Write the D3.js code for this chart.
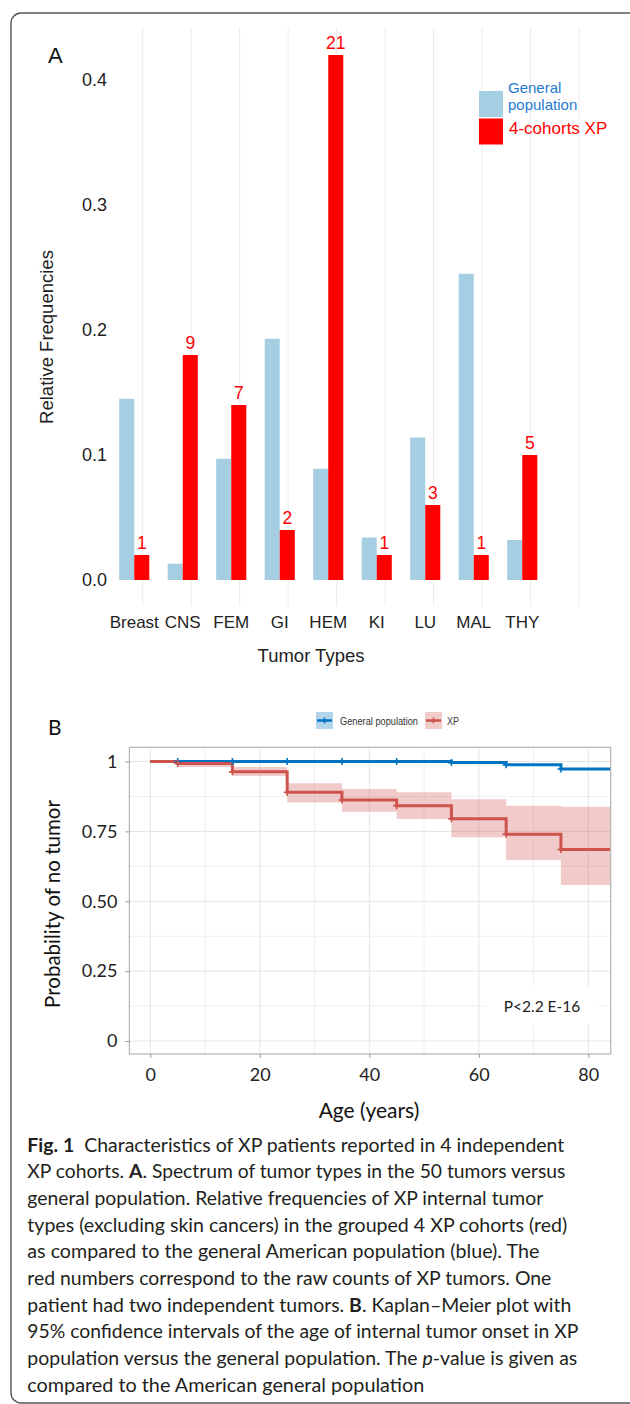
<!DOCTYPE html>
<html>
<head>
<meta charset="utf-8">
<script src="https://cdn.jsdelivr.net/npm/d3@7"></script>
<style>
  body { margin: 0; background: #fff; }
  svg { display: block; }
</style>
</head>
<body>
<div id="chart"></div>
<script>
// Panel A data: relative frequencies per tumor type
const categories = ["Breast", "CNS", "FEM", "GI", "HEM", "KI", "LU", "MAL", "THY"];
const generalFreq = [0.145, 0.013, 0.097, 0.193, 0.089, 0.034, 0.114, 0.245, 0.032];
const xpFreq = [0.02, 0.18, 0.14, 0.04, 0.42, 0.02, 0.06, 0.02, 0.10];
const xpCounts = [1, 9, 7, 2, 21, 1, 3, 1, 5];
const yTicksA = [0, 0.1, 0.2, 0.3, 0.4];

// Panel B data: Kaplan-Meier steps (value holds from each age to the next)
const stepAges = [0, 5, 15, 25, 35, 45, 55, 65, 75, 84];
const generalSurv = [1, 1, 1, 1, 1, 1, 0.996, 0.988, 0.973, 0.973];
const xpSurv = [1, 0.993, 0.963, 0.89, 0.862, 0.842, 0.795, 0.74, 0.685, 0.685];
const xpUpper = [1, 1, 0.98, 0.922, 0.902, 0.89, 0.865, 0.842, 0.838, 0.838];
const xpLower = [1, 0.98, 0.948, 0.853, 0.82, 0.794, 0.729, 0.648, 0.558, 0.558];
const censorAges = [5, 15, 25, 35, 45, 55, 65, 75];
const xTicksB = [0, 20, 40, 60, 80];
const yTicksB = [0, 0.25, 0.5, 0.75, 1];
const yTickLabelsB = ["0", "0.25", "0.50", "0.75", "1"];

const captionLines = [
    [["b", "Fig. 1"], ["n", "  Characteristics of XP patients reported in 4 independent"]],
    [["n", "XP cohorts. "], ["b", "A"], ["n", ". Spectrum of tumor types in the 50 tumors versus"]],
    [["n", "general population. Relative frequencies of XP internal tumor"]],
    [["n", "types (excluding skin cancers) in the grouped 4 XP cohorts (red)"]],
    [["n", "as compared to the general American population (blue). The"]],
    [["n", "red numbers correspond to the raw counts of XP tumors. One"]],
    [["n", "patient had two independent tumors. "], ["b", "B"], ["n", ". Kaplan\u2013Meier plot with"]],
    [["n", "95% confidence intervals of the age of internal tumor onset in XP"]],
    [["n", "population versus the general population. The "], ["i", "p"], ["n", "-value is given as"]],
    [["n", "compared to the American general population"]]
];
const captionWidths = [537, 538, 516, 540, 512, 524, 544, 551, 550, 397];

const W = 630, H = 1404;
const blueBar = "#a6cee3", redBar = "#ff0000";
const kmBlue = "#0073C2", kmRed = "#CD534C";

const svg = d3.select("#chart")
    .append("svg")
    .attr("width", W)
    .attr("height", H);

svg.append("rect").attr("width", W).attr("height", H).attr("fill", "#fff");

// outer frame
svg.append("rect")
    .attr("x", 11).attr("y", 13)
    .attr("width", 630).attr("height", 1390)
    .attr("rx", 10)
    .attr("fill", "none")
    .attr("stroke", "#555")
    .attr("stroke-width", 1.4);

// ---------------- Panel A ----------------
const gA = svg.append("g").attr("font-family", "'Liberation Sans', Arial, sans-serif");

const xA = d3.scaleBand()
    .domain(categories)
    .range([110, 110 + 9 * 48.5])
    .paddingInner(0.38)
    .paddingOuter(0.19);
const bw = xA.bandwidth() / 2;

const yA = d3.scaleLinear().domain([0, 0.4]).range([580, 80]);

// vertical gridlines (offset slightly right of the groups, one extra at the end)
const gridIdx = d3.range(categories.length + 1);
gA.append("g").selectAll("line")
    .data(gridIdx)
    .enter().append("line")
    .attr("x1", i => xA(categories[0]) + xA.bandwidth() / 2 + 8.4 + i * xA.step())
    .attr("x2", i => xA(categories[0]) + xA.bandwidth() / 2 + 8.4 + i * xA.step())
    .attr("y1", 28).attr("y2", 606)
    .attr("stroke", "#ebebeb")
    .attr("stroke-width", 1);

// bars
gA.append("g").selectAll("rect")
    .data(categories)
    .enter().append("rect")
    .attr("x", d => xA(d))
    .attr("y", (d, i) => yA(generalFreq[i]))
    .attr("width", bw)
    .attr("height", (d, i) => yA(0) - yA(generalFreq[i]))
    .attr("fill", blueBar);

gA.append("g").selectAll("rect")
    .data(categories)
    .enter().append("rect")
    .attr("x", d => xA(d) + bw)
    .attr("y", (d, i) => yA(xpFreq[i]))
    .attr("width", bw)
    .attr("height", (d, i) => yA(0) - yA(xpFreq[i]))
    .attr("fill", redBar);

// raw counts above red bars
gA.append("g").selectAll("text")
    .data(categories)
    .enter().append("text")
    .attr("x", d => xA(d) + bw * 1.5)
    .attr("y", (d, i) => yA(xpFreq[i]) - 6)
    .attr("text-anchor", "middle")
    .attr("font-size", 17.5)
    .attr("fill", redBar)
    .text((d, i) => xpCounts[i]);

// y axis
const axA = gA.append("g")
    .attr("transform", "translate(110,0)")
    .call(d3.axisLeft(yA).tickValues(yTicksA).tickFormat(d3.format(".1f")).tickSize(0).tickPadding(3));
axA.select(".domain").remove();
axA.selectAll("text").attr("font-size", 18).attr("fill", "#222").attr("font-family", "'Liberation Sans', Arial, sans-serif");

// x axis
const axAx = gA.append("g")
    .attr("transform", "translate(0,616)")
    .call(d3.axisBottom(xA).tickSize(0).tickPadding(0));
axAx.select(".domain").remove();
axAx.selectAll("text").attr("font-size", 17).attr("fill", "#222").attr("font-family", "'Liberation Sans', Arial, sans-serif");

gA.append("text")
    .attr("x", 311).attr("y", 662)
    .attr("text-anchor", "middle")
    .attr("font-size", 18.5)
    .attr("fill", "#222")
    .text("Tumor Types");

gA.append("text")
    .attr("transform", "translate(53,337) rotate(-90)")
    .attr("text-anchor", "middle")
    .attr("font-size", 18.5)
    .attr("fill", "#222")
    .text("Relative Frequencies");

gA.append("text")
    .attr("x", 48).attr("y", 63)
    .attr("font-size", 22)
    .attr("fill", "#111")
    .text("A");

// legend
const legA = gA.append("g");
legA.append("rect").attr("x", 479).attr("y", 91).attr("width", 24).attr("height", 26).attr("fill", blueBar);
legA.append("rect").attr("x", 479).attr("y", 118.5).attr("width", 24).attr("height", 26).attr("fill", redBar);
legA.append("text").attr("x", 508).attr("y", 92.5).attr("font-size", 15).attr("fill", "#1f7ad0").text("General");
legA.append("text").attr("x", 508).attr("y", 110).attr("font-size", 15).attr("fill", "#1f7ad0").text("population");
legA.append("text").attr("x", 509).attr("y", 133.5).attr("font-size", 17).attr("fill", redBar).text("4-cohorts XP");

// ---------------- Panel B ----------------
const gB = svg.append("g").attr("font-family", "Lato, 'Open Sans', sans-serif");
const panel = { x0: 129.4, x1: 610.7, y0: 747.3, y1: 1054 };

const xB = d3.scaleLinear().domain([0, 80]).range([150.3, 588.3]);
const yB = d3.scaleLinear().domain([0, 1]).range([1041, 761.5]);

gB.append("defs").append("clipPath").attr("id", "clipB")
    .append("rect")
    .attr("x", panel.x0).attr("y", panel.y0)
    .attr("width", panel.x1 - panel.x0).attr("height", panel.y1 - panel.y0);

const plotB = gB.append("g").attr("clip-path", "url(#clipB)");

// grid
const minorX = [10, 30, 50, 70], minorY = [0.125, 0.375, 0.625, 0.875];
plotB.append("g").selectAll("line").data(minorX).enter().append("line")
    .attr("x1", d => xB(d)).attr("x2", d => xB(d))
    .attr("y1", panel.y0).attr("y2", panel.y1)
    .attr("stroke", "#f0f0f0");
plotB.append("g").selectAll("line").data(minorY).enter().append("line")
    .attr("x1", panel.x0).attr("x2", panel.x1)
    .attr("y1", d => yB(d)).attr("y2", d => yB(d))
    .attr("stroke", "#f0f0f0");
plotB.append("g").selectAll("line").data(xTicksB).enter().append("line")
    .attr("x1", d => xB(d)).attr("x2", d => xB(d))
    .attr("y1", panel.y0).attr("y2", panel.y1)
    .attr("stroke", "#e4e4e4");
plotB.append("g").selectAll("line").data(yTicksB).enter().append("line")
    .attr("x1", panel.x0).attr("x2", panel.x1)
    .attr("y1", d => yB(d)).attr("y2", d => yB(d))
    .attr("stroke", "#e4e4e4");

// confidence band for XP
const kmXP = stepAges.map((a, i) => ({ age: a, s: xpSurv[i], lo: xpLower[i], hi: xpUpper[i] }));
const kmGen = stepAges.map((a, i) => ({ age: a, s: generalSurv[i] }));

plotB.append("path")
    .datum(kmXP)
    .attr("fill", kmRed)
    .attr("fill-opacity", 0.3)
    .attr("d", d3.area()
        .curve(d3.curveStepAfter)
        .x(d => xB(d.age))
        .y0(d => yB(d.lo))
        .y1(d => yB(d.hi)));

// survival lines
plotB.append("path")
    .datum(kmGen)
    .attr("fill", "none")
    .attr("stroke", kmBlue)
    .attr("stroke-width", 3)
    .attr("d", d3.line().curve(d3.curveStepAfter).x(d => xB(d.age)).y(d => yB(d.s)));

plotB.append("path")
    .datum(kmXP)
    .attr("fill", "none")
    .attr("stroke", kmRed)
    .attr("stroke-width", 3)
    .attr("d", d3.line().curve(d3.curveStepAfter).x(d => xB(d.age)).y(d => yB(d.s)));

// censor marks
const survAt = (arr, age) => arr[d3.bisectRight(stepAges, age) - 1];
const plus = "M-3.5,0H3.5M0,-3.5V3.5";
plotB.append("g").selectAll("path").data(censorAges).enter().append("path")
    .attr("transform", d => `translate(${xB(d)},${yB(survAt(generalSurv, d))})`)
    .attr("d", plus).attr("stroke", kmBlue).attr("stroke-width", 1.6);
plotB.append("g").selectAll("path").data(censorAges).enter().append("path")
    .attr("transform", d => `translate(${xB(d)},${yB(survAt(xpSurv, d))})`)
    .attr("d", plus).attr("stroke", kmRed).attr("stroke-width", 1.6);

// p-value label
plotB.append("rect")
    .attr("x", 486).attr("y", 986).attr("width", 113).attr("height", 39)
    .attr("fill", "#fff");
gB.append("text")
    .attr("x", 542).attr("y", 1012)
    .attr("text-anchor", "middle")
    .attr("font-size", 15.5)
    .attr("fill", "#222")
    .text("P<2.2 E-16");

// panel border
gB.append("rect")
    .attr("x", panel.x0).attr("y", panel.y0)
    .attr("width", panel.x1 - panel.x0).attr("height", panel.y1 - panel.y0)
    .attr("fill", "none")
    .attr("stroke", "#b3b3b3")
    .attr("stroke-width", 1.2);

// axes
const axBy = gB.append("g")
    .attr("transform", `translate(${panel.x0},0)`)
    .call(d3.axisLeft(yB).tickValues(yTicksB).tickFormat((d, i) => yTickLabelsB[i]).tickSize(4).tickPadding(8));
axBy.select(".domain").remove();
axBy.selectAll("line").attr("stroke", "#999");
axBy.selectAll("text").attr("font-size", 18).attr("fill", "#222").attr("font-family", "Lato, 'Open Sans', sans-serif");

const axBx = gB.append("g")
    .attr("transform", `translate(0,${panel.y1})`)
    .call(d3.axisBottom(xB).tickValues(xTicksB).tickSize(4).tickPadding(10));
axBx.select(".domain").remove();
axBx.selectAll("line").attr("stroke", "#999");
axBx.selectAll("text").attr("font-size", 18).attr("fill", "#222").attr("font-family", "Lato, 'Open Sans', sans-serif");

gB.append("text")
    .attr("x", 369).attr("y", 1118)
    .attr("text-anchor", "middle")
    .attr("font-size", 21)
    .attr("fill", "#111")
    .text("Age (years)");

gB.append("text")
    .attr("transform", "translate(60,904) rotate(-90)")
    .attr("text-anchor", "middle")
    .attr("font-size", 20.5)
    .attr("fill", "#111")
    .text("Probability of no tumor");

gB.append("text")
    .attr("x", 48).attr("y", 735)
    .attr("font-size", 21)
    .attr("fill", "#111")
    .text("B");

// legend
const legB = gB.append("g").attr("font-family", "'Liberation Sans', Arial, sans-serif");
const legItems = [
    { key: "General population", color: kmBlue, x: 316, tx: 340, tw: 78 },
    { key: "XP", color: kmRed, x: 425, tx: 447, tw: 12 }
];
legItems.forEach(it => {
    legB.append("rect").attr("x", it.x).attr("y", 712).attr("width", 17).attr("height", 17)
        .attr("fill", it.color).attr("fill-opacity", 0.3);
    legB.append("line").attr("x1", it.x + 1).attr("x2", it.x + 16).attr("y1", 720.5).attr("y2", 720.5)
        .attr("stroke", it.color).attr("stroke-width", 2.5);
    legB.append("path").attr("transform", `translate(${it.x + 8.5},720.5)`).attr("d", "M-3,0H3M0,-3V3")
        .attr("stroke", it.color).attr("stroke-width", 1.4);
    legB.append("text").attr("x", it.tx).attr("y", 724.5).attr("font-size", 10.5).attr("fill", "#333")
        .attr("textLength", it.tw).attr("lengthAdjust", "spacingAndGlyphs").text(it.key);
});

// ---------------- Caption ----------------
const cap = svg.append("g")
    .attr("font-family", "Lato, 'Open Sans', sans-serif")
    .attr("font-size", 18.5)
    .attr("fill", "#231f20");

captionLines.forEach((parts, i) => {
    const t = cap.append("text")
        .attr("x", 27.3)
        .attr("y", 1151.7 + i * 26.67)
        .attr("textLength", captionWidths[i])
        .attr("lengthAdjust", "spacingAndGlyphs")
        .attr("xml:space", "preserve")
        .style("white-space", "pre");
    parts.forEach(p => {
        t.append("tspan")
            .attr("font-weight", p[0] === "b" ? "bold" : null)
            .attr("font-style", p[0] === "i" ? "italic" : null)
            .text(p[1]);
    });
});
</script>
</body>
</html>
